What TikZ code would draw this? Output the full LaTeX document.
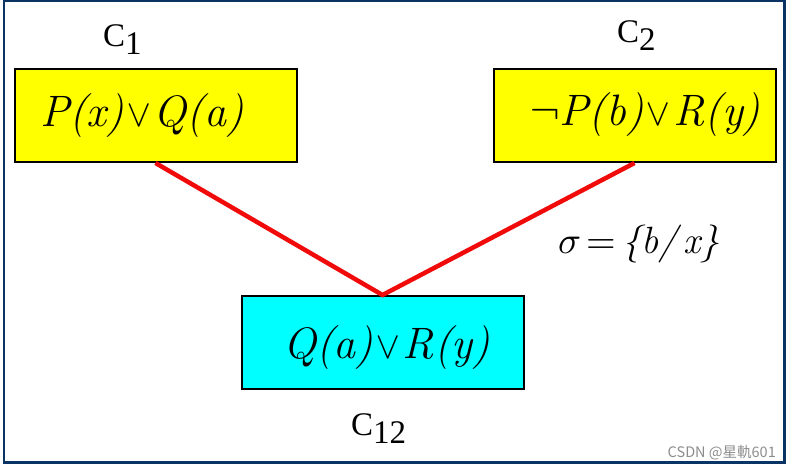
\documentclass[tikz,border=0pt]{standalone}
\usepackage{fontspec}
\setmainfont{Liberation Serif}
\newfontfamily\tnr{Liberation Serif}
\newfontfamily\fml{Latin Modern Roman}
\newfontfamily\symf{Latin Modern Math}
\newfontfamily\cjkwm{Noto Sans CJK SC}
\newcommand{\myor}{{\upshape\symf\fontsize{38}{44}\selectfont\kern2pt ∨\kern2pt}}
\definecolor{framenavy}{RGB}{10,52,100}
\definecolor{linered}{RGB}{240,10,10}
\definecolor{boxyellow}{RGB}{255,255,0}
\definecolor{boxcyan}{RGB}{0,255,255}
\begin{document}
\begin{tikzpicture}[x=1pt,y=-1pt,
  clausebox/.style={draw=black, line width=2pt, inner sep=0pt, minimum width=282pt, minimum height=93pt},
  formula/.style={anchor=base west, inner sep=0pt, font=\fml\fontsize{44}{50}\selectfont\itshape},
  clabel/.style={anchor=base west, inner sep=0pt, font=\tnr\fontsize{33}{36}\selectfont},
  resline/.style={draw=linered, line width=4.5pt, line join=miter},
]
\useasboundingbox (0,0) rectangle (792,468);
% frame
\draw[framenavy, line width=2.5pt] (4,-2) -- (4,462.5) -- (784.5,462.5) -- (784.5,1) -- (4,1);
% boxes
\node[clausebox, fill=boxyellow] (c1) at (155.5,115.5) {};
\node[clausebox, fill=boxyellow] (c2) at (634.5,115.5) {};
\node[clausebox, fill=boxcyan] (c12) at (382.5,342.5) {};
% connectors
\draw[resline] (c1.south) -- (c12.north) -- (c2.south);
% formulas
\node[formula] (f1) at (40,127) {P(x)\myor Q(a)};
\node[formula] (f2) at (530,125) {{\upshape\symf ¬}P(b)\myor R(y)};
\node[formula] (f12) at (283,358) {Q(a)\myor R(y)};
\node[formula, font=\fml\fontsize{38}{44}\selectfont\itshape] (sig) at (558,253) {{\symf 𝜎}\,{\upshape\symf =}\,\{b/\,x\}};
% labels
\node[clabel] (l1) at (103,47) {C\raisebox{-8pt}{1}};
\node[clabel] (l2) at (617,43) {C\raisebox{-8pt}{2}};
\node[clabel] (l12) at (351,435) {C\raisebox{-8pt}{12}};
% watermark
\node[anchor=base east, inner sep=0pt, text=black!45, font=\cjkwm\fontsize{14.5}{16}\selectfont] (wm) at (776,457) {CSDN @星軌601};
\end{tikzpicture}
\end{document}
